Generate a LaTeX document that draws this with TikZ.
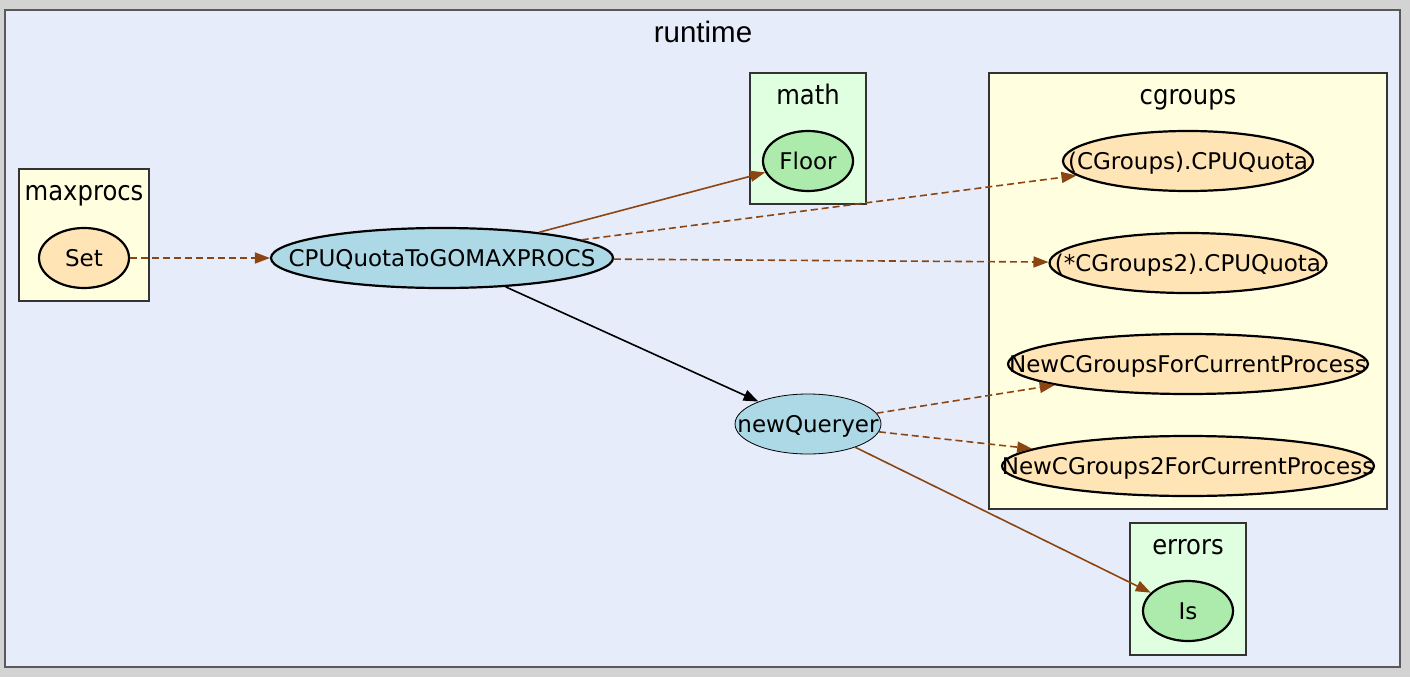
\documentclass[tikz,border=0pt]{standalone}
\usepackage{fontspec}
\setmainfont{DejaVu Sans}
\newfontfamily\pkgfont{DejaVu Sans}[FakeStretch=0.9]
\newfontfamily\topfont{Liberation Sans}
\usetikzlibrary{shapes.geometric,arrows.meta}

\definecolor{bggray}{RGB}{211,211,211}
\definecolor{runtimefill}{RGB}{230,236,250}
\definecolor{pkgyellow}{RGB}{255,255,224}
\definecolor{pkggreen}{RGB}{224,255,224}
\definecolor{fnorange}{RGB}{255,228,181}
\definecolor{fnblue}{RGB}{173,216,230}
\definecolor{fngreen}{RGB}{173,235,173}
\definecolor{callbrown}{RGB}{139,69,19}

\newcommand{\fnname}[1]{\makebox[0pt]{#1}}

\tikzset{
  fn/.style={ellipse, draw=black, line width=2.2pt, inner sep=0pt,
    minimum height=60pt, text height=18pt, text depth=2pt,
    font=\fontsize{23}{27}\selectfont},
  pkg/.style={draw=black!80, line width=1.2pt},
  pkgtitle/.style={anchor=base, font=\pkgfont\fontsize{27}{30}\selectfont},
  call/.style={draw=callbrown, line width=1.6pt,
    -{Triangle[length=15pt,width=11pt]}},
  dyncall/.style={call, dash pattern=on 7pt off 4pt}
}

\begin{document}
\begin{tikzpicture}[x=1pt,y=-1pt]
\useasboundingbox [fill=bggray] (0,0) rectangle (1410,677);

% packages
\draw [pkg, draw=black!65, fill=runtimefill] (5,10) rectangle (1400,667);
\node [anchor=base, font=\topfont\fontsize{29.5}{32}\selectfont] (runtimet) at (703,43) {runtime};
\draw [pkg, fill=pkgyellow] (19,169) rectangle (149,301);
\node [pkgtitle] (maxprocst) at (84,200) {maxprocs};
\draw [pkg, fill=pkggreen] (750,73) rectangle (866,204);
\node [pkgtitle] (matht) at (808,104) {math};
\draw [pkg, fill=pkgyellow] (989,73) rectangle (1387,509);
\node [pkgtitle] (cgroupst) at (1188,104) {cgroups};
\draw [pkg, fill=pkggreen] (1130,523) rectangle (1246,655);
\node [pkgtitle] (errorst) at (1188,554) {errors};

% functions
\node [fn, fill=fnorange, minimum width=90pt] (set) at (84,258) {\fnname{Set}};
\node [fn, fill=fnblue, minimum width=342pt] (cpuquota) at (442,258) {\fnname{CPUQuotaToGOMAXPROCS}};
\node [fn, fill=fnblue, line width=0.8pt, minimum width=146pt] (queryer) at (808,424) {\fnname{newQueryer}};
\node [fn, fill=fngreen, minimum width=90pt] (floor) at (808,161) {\fnname{Floor}};
\node [fn, fill=fnorange, minimum width=250pt] (cgquota) at (1188,161) {\fnname{(CGroups).CPUQuota}};
\node [fn, fill=fnorange, minimum width=277pt] (cgtwoquota) at (1188,263) {\fnname{(*CGroups2).CPUQuota}};
\node [fn, fill=fnorange, minimum width=360pt] (newcg) at (1188,364) {\fnname{NewCGroupsForCurrentProcess}};
\node [fn, fill=fnorange, minimum width=372pt] (newcgtwo) at (1188,466) {\fnname{NewCGroups2ForCurrentProcess}};
\node [fn, fill=fngreen, minimum width=90pt] (is) at (1188,611) {\fnname{Is}};

% calls
\draw [dyncall] (set) -- (cpuquota);
\draw [call] (cpuquota) -- (floor);
\draw [dyncall] (cpuquota) -- (cgquota);
\draw [dyncall] (cpuquota) -- (cgtwoquota);
\draw [call, draw=black] (cpuquota) -- (queryer);
\draw [dyncall] (queryer) -- (newcg);
\draw [dyncall] (queryer) -- (newcgtwo);
\draw [call] (queryer) -- (is);
\end{tikzpicture}
\end{document}
